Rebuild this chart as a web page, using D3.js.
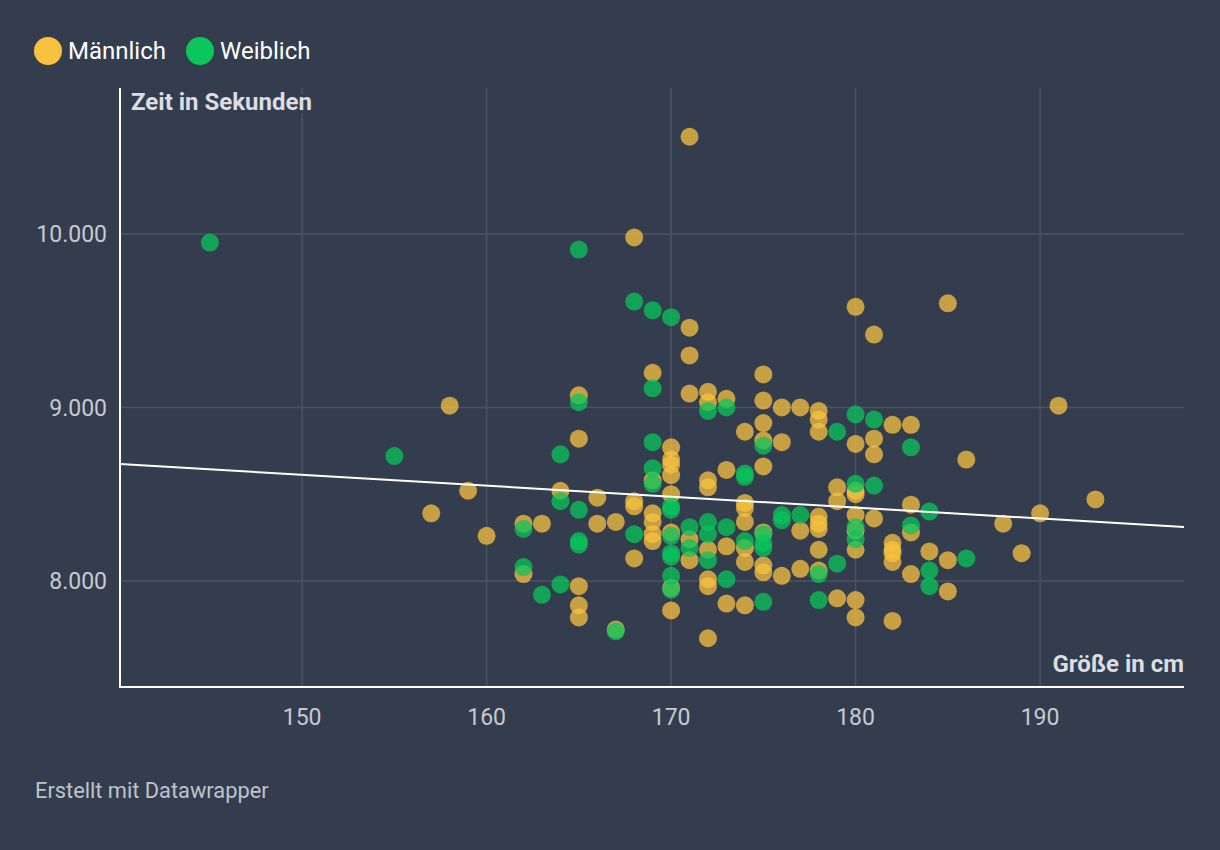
<!DOCTYPE html>
<html><head><meta charset="utf-8">
<script src="https://cdn.jsdelivr.net/npm/d3@7"></script>
<style>
html,body{margin:0;padding:0;background:#333d4e;}
svg{display:block;font-family:Roboto,"Noto Sans",sans-serif;}
</style></head>
<body><svg id="c" width="1220" height="850"></svg>
<script>
// ---- data ----
const seriesNames = ["Männlich", "Weiblich"];
const maleHeight = [157,158,159,160,162,162,163,164,165,165,165,165,165,166,166,167,167,168,168,168,168,169,169,169,169,169,169,170,170,170,170,170,170,170,170,171,171,171,171,171,171,172,172,172,172,172,172,172,172,173,173,173,173,174,174,174,174,174,174,174,175,175,175,175,175,175,175,175,176,176,176,177,177,177,178,178,178,178,178,178,178,178,179,179,179,180,180,180,180,180,180,180,180,180,181,181,181,181,182,182,182,182,182,182,183,183,183,183,184,185,185,185,186,188,189,190,191,193];
const maleTime   = [8.39,9.01,8.52,8.26,8.33,8.04,8.33,8.52,9.07,8.82,7.97,7.86,7.79,8.48,8.33,8.34,7.72,9.98,8.46,8.43,8.13,9.20,8.58,8.39,8.34,8.27,8.23,8.77,8.70,8.67,8.61,8.50,8.28,7.96,7.83,10.56,9.46,9.30,9.08,8.24,8.12,9.09,9.03,8.58,8.54,8.18,8.01,7.97,7.67,9.05,8.64,8.20,7.87,8.86,8.45,8.42,8.34,8.19,8.11,7.86,9.19,9.04,8.91,8.81,8.66,8.28,8.09,8.05,9.00,8.80,8.03,9.00,8.29,8.07,8.98,8.93,8.86,8.37,8.33,8.30,8.18,8.06,8.54,8.46,7.90,9.58,8.79,8.52,8.50,8.38,8.29,8.18,7.89,7.79,9.42,8.82,8.73,8.36,8.90,8.22,8.18,8.11,8.16,7.77,8.90,8.44,8.28,8.04,8.17,9.60,8.12,7.94,8.70,8.33,8.16,8.39,9.01,8.47];
const femaleHeight = [145,155,162,162,163,164,164,164,165,165,165,165,165,167,168,168,169,169,169,169,169,170,170,170,170,170,170,170,170,171,171,172,172,172,172,173,173,173,174,174,174,175,175,175,175,175,176,176,177,178,178,179,179,180,180,180,180,181,181,183,183,184,184,184,186];
const femaleTime   = [9.95,8.72,8.30,8.08,7.92,8.73,8.46,7.98,9.91,9.03,8.41,8.23,8.21,7.71,9.61,8.27,9.56,9.11,8.80,8.65,8.56,9.52,8.43,8.41,8.26,8.16,8.14,8.03,7.95,8.31,8.19,8.98,8.34,8.27,8.12,9.00,8.31,8.01,8.62,8.60,8.23,8.78,8.27,8.22,8.19,7.88,8.38,8.35,8.38,8.04,7.89,8.86,8.10,8.96,8.56,8.31,8.24,8.93,8.55,8.77,8.32,8.40,8.06,7.97,8.13];
const xTicks = [150,160,170,180,190];
const yTicks = [8,9,10];
const yTickLabels = ["8.000","9.000","10.000"];
const xDomain = [140.13, 197.8];
const yDomain = [7.389, 10.841];
const trendX = [140.13, 197.8];
const trendY = [8.674, 8.311];
const yTitle = "Zeit in Sekunden";
const xTitle = "Größe in cm";
const footer = "Erstellt mit Datawrapper";

// ---- drawing ----
const colors = ["#f8c140", "#0ac65b"];
const bg = "#333d4e";
const svg = d3.select("#c");
svg.append("rect").attr("width",1220).attr("height",850).attr("fill",bg);

const L=120, R=1184, T=88, B=687;
const x = d3.scaleLinear().domain(xDomain).range([L,R]);
const y = d3.scaleLinear().domain(yDomain).range([B,T]);

// grid
const g = svg.append("g");
g.selectAll(".vg").data(xTicks).join("line")
  .attr("x1",d=>x(d)).attr("x2",d=>x(d)).attr("y1",T).attr("y2",B)
  .attr("stroke","#4a5363").attr("stroke-width",1.5);
g.selectAll(".hg").data(yTicks).join("line")
  .attr("x1",L).attr("x2",R).attr("y1",d=>y(d)).attr("y2",d=>y(d))
  .attr("stroke","#4a5363").attr("stroke-width",1.5);

// tick labels
svg.append("g").selectAll("text").data(xTicks).join("text")
  .attr("x",d=>x(d)).attr("y",725).attr("text-anchor","middle")
  .attr("font-size",23).attr("fill","#c6cad0").text(d=>d);
svg.append("g").selectAll("text").data(yTicks).join("text")
  .attr("x",107).attr("y",d=>y(d)+8.5).attr("text-anchor","end")
  .attr("font-size",23).attr("fill","#c6cad0").text((d,i)=>yTickLabels[i]);

// dots
const pts = [];
maleHeight.forEach((h,i)=>pts.push({h, t:maleTime[i], s:0}));
femaleHeight.forEach((h,i)=>pts.push({h, t:femaleTime[i], s:1}));
svg.append("g").selectAll("circle").data(pts).join("circle")
  .attr("cx",d=>x(d.h)).attr("cy",d=>y(d.t)).attr("r",9)
  .attr("fill",d=>colors[d.s]).attr("fill-opacity",0.75);

// trend line
svg.append("line")
  .attr("x1",x(trendX[0])).attr("y1",y(trendY[0]))
  .attr("x2",x(trendX[1])).attr("y2",y(trendY[1]))
  .attr("stroke","#ffffff").attr("stroke-width",2);

// axes lines
svg.append("line").attr("x1",L).attr("x2",L).attr("y1",T).attr("y2",B+1)
  .attr("stroke","#fff").attr("stroke-width",2);
svg.append("line").attr("x1",L-1).attr("x2",R).attr("y1",B).attr("y2",B)
  .attr("stroke","#fff").attr("stroke-width",2);

// axis titles with halo
function halo(sel){
  sel.attr("stroke",bg).attr("stroke-width",6).attr("stroke-linejoin","round")
     .attr("paint-order","stroke").attr("fill","#dcdde0")
     .attr("font-weight","bold").attr("font-size",24);
}
svg.append("text").attr("x",131).attr("y",110).text(yTitle).call(halo);
svg.append("text").attr("x",R).attr("y",672).attr("text-anchor","end").text(xTitle).call(halo);

// legend
const legX = [48, 200];
const lg = svg.append("g");
seriesNames.forEach((n,i)=>{
  lg.append("circle").attr("cx",legX[i]).attr("cy",51).attr("r",14).attr("fill",colors[i]);
  lg.append("text").attr("x",legX[i]+20).attr("y",59).attr("font-size",24)
    .attr("fill","#ffffff").text(n);
});

// footer
svg.append("text").attr("x",35).attr("y",798).attr("font-size",21.8)
  .attr("fill","#bfc3c9").text(footer);
</script></body></html>
